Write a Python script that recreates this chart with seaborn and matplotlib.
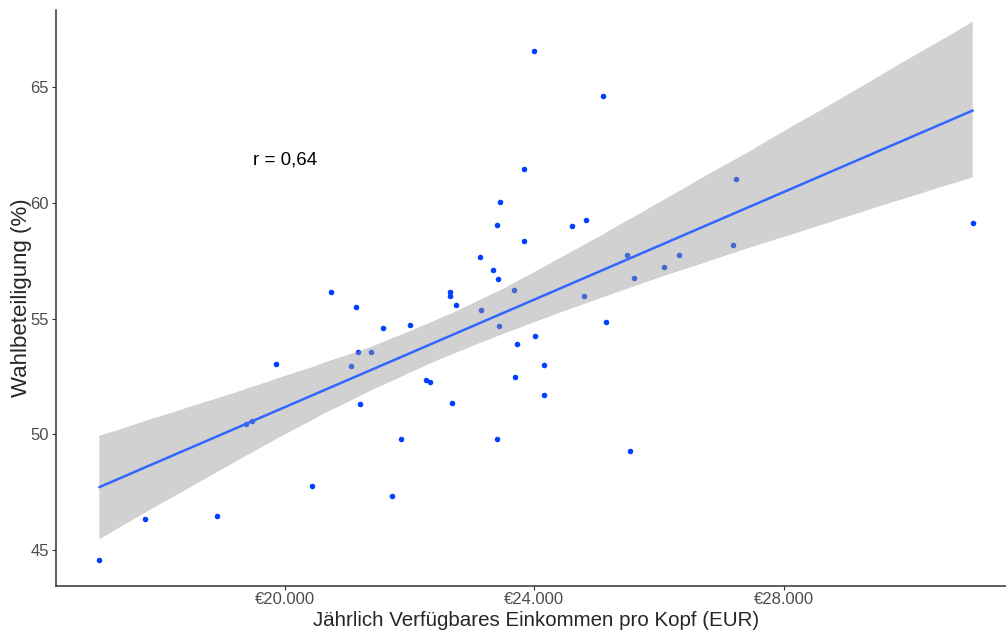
import numpy as np
import pandas as pd
import seaborn as sns
import matplotlib.pyplot as plt
from matplotlib.collections import PolyCollection
from matplotlib.ticker import FuncFormatter

# Jährlich verfügbares Einkommen pro Kopf (EUR)
income = [
    17021, 17750, 18914, 19370, 19471, 19860, 20433, 20743, 21054, 21134,
    21166, 21203, 21379, 21577, 21719, 21856, 22002, 22265, 22326, 22651,
    22650, 22679, 22746, 23128, 23136, 23333, 23409, 23405, 23453, 23396,
    23429, 23668, 23692, 23721, 23826, 23834, 24002, 23999, 24162, 24162,
    24599, 24791, 24820, 25101, 25141, 25486, 25539, 25595, 26074, 26320,
    27181, 27239, 31031,
]
# Wahlbeteiligung (%)
turnout = [
    44.56, 46.32, 46.45, 50.43, 50.58, 53.03, 47.78, 56.14, 52.95, 55.49,
    53.56, 51.33, 53.56, 54.61, 47.33, 49.81, 54.74, 52.34, 52.26, 56.14,
    55.97, 51.35, 55.58, 57.65, 55.36, 57.11, 56.71, 59.04, 60.05, 49.81,
    54.67, 56.22, 52.49, 53.91, 61.49, 58.36, 54.27, 66.57, 53.00, 51.69,
    58.99, 55.98, 59.28, 64.62, 54.86, 57.75, 49.26, 56.77, 57.22, 57.75,
    58.17, 61.04, 59.13,
]
x_ticks = [20000, 24000, 28000]
y_ticks = [45, 50, 55, 60, 65]
r_label = 'r = 0,64'


def euro(v, pos=None):
    return '€' + f'{int(v):,}'.replace(',', '.')


def plot_income_turnout(df: pd.DataFrame, output_file: str = 'out.png') -> None:
    sns.set_style('white')
    plt.rcParams['font.family'] = ['Liberation Sans', 'DejaVu Sans']

    fig = plt.figure(figsize=(10.06, 6.34), dpi=100)
    # panel runs slightly past the right edge, as in the cropped original
    ax = fig.add_axes([56 / 1006, 48 / 634, 960 / 1006, 576 / 634])

    sns.scatterplot(
        data=df, x='income', y='turnout', ax=ax,
        color='#0040FF', s=16, linewidth=0, zorder=1
    )
    sns.regplot(
        data=df, x='income', y='turnout', ax=ax, scatter=False,
        ci=95, n_boot=4000, seed=1, color='#3366FF',
        line_kws={'linewidth': 1.8, 'zorder': 3}
    )
    # ggplot-like grey confidence band drawn over the points
    for coll in ax.collections:
        if isinstance(coll, PolyCollection):
            coll.set_facecolor('#999999')
            coll.set_alpha(0.45)
            coll.set_edgecolor('none')
            coll.set_zorder(2)

    ax.text(20000, 61.85, r_label, ha='center', va='center', fontsize=13.5, color='black')

    ax.set_xlim(16327, 31725)
    ax.set_ylim(43.44, 68.35)
    ax.set_xticks(x_ticks)
    ax.set_yticks(y_ticks)
    ax.xaxis.set_major_formatter(FuncFormatter(euro))

    for side in ['top', 'right']:
        ax.spines[side].set_visible(False)
    for side in ['left', 'bottom']:
        ax.spines[side].set_color('#333333')
        ax.spines[side].set_linewidth(1.1)

    ax.tick_params(axis='both', length=3, width=0.8, color='#333333',
                   labelsize=12, labelcolor='#4D4D4D', direction='out',
                   bottom=True, left=True)
    ax.tick_params(axis='x', pad=1)
    ax.tick_params(axis='y', pad=2)

    ax.set_xlabel('Jährlich Verfügbares Einkommen pro Kopf (EUR)', fontsize=14.8, labelpad=3)
    ax.set_ylabel('Wahlbeteiligung (%)', fontsize=16, labelpad=-1)

    fig.savefig(output_file, dpi=100)
    plt.close(fig)


if __name__ == '__main__':
    df = pd.DataFrame({'income': income, 'turnout': turnout})
    plot_income_turnout(df)
